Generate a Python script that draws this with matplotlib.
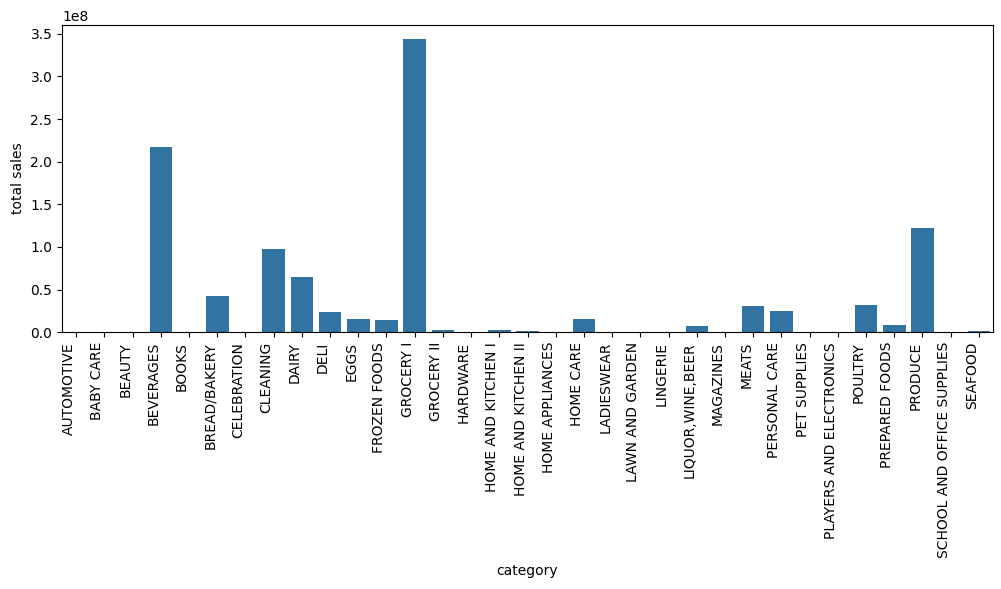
import numpy as np
import matplotlib
matplotlib.use("Agg")
import matplotlib.pyplot as plt

# total sales per product family
categories = [
    "AUTOMOTIVE", "BABY CARE", "BEAUTY", "BEVERAGES", "BOOKS", "BREAD/BAKERY",
    "CELEBRATION", "CLEANING", "DAIRY", "DELI", "EGGS", "FROZEN FOODS",
    "GROCERY I", "GROCERY II", "HARDWARE", "HOME AND KITCHEN I",
    "HOME AND KITCHEN II", "HOME APPLIANCES", "HOME CARE", "LADIESWEAR",
    "LAWN AND GARDEN", "LINGERIE", "LIQUOR,WINE,BEER", "MAGAZINES", "MEATS",
    "PERSONAL CARE", "PET SUPPLIES", "PLAYERS AND ELECTRONICS", "POULTRY",
    "PREPARED FOODS", "PRODUCE", "SCHOOL AND OFFICE SUPPLIES", "SEAFOOD",
]
total_sales = [
    554822, 10051, 337893, 216954500, 6438, 42133950,
    761177, 97521290, 64487710, 24110320, 15588750, 14142250,
    343462700, 2158624, 103723, 2136710,
    1525369, 41601, 16022230, 650490,
    548591, 651277, 7580500, 402524, 31086470,
    24592050, 405300, 568002, 31876000,
    8998000, 122704700, 260000, 1970000,
]

fig, ax = plt.subplots(figsize=(10.01, 5.89), dpi=100)
x = np.arange(len(categories))
ax.bar(x, total_sales, width=0.8, color="#3274a1")
ax.set_xticks(x)
ax.set_xticklabels(categories, rotation=90, ha="right")
ax.set_xlim(-0.5, len(categories) - 0.5)
ax.set_xlabel("category")
ax.set_ylabel("total sales")

fig.subplots_adjust(left=0.062, right=0.992, top=0.958, bottom=0.436)
plt.savefig("out.png", dpi=100)
